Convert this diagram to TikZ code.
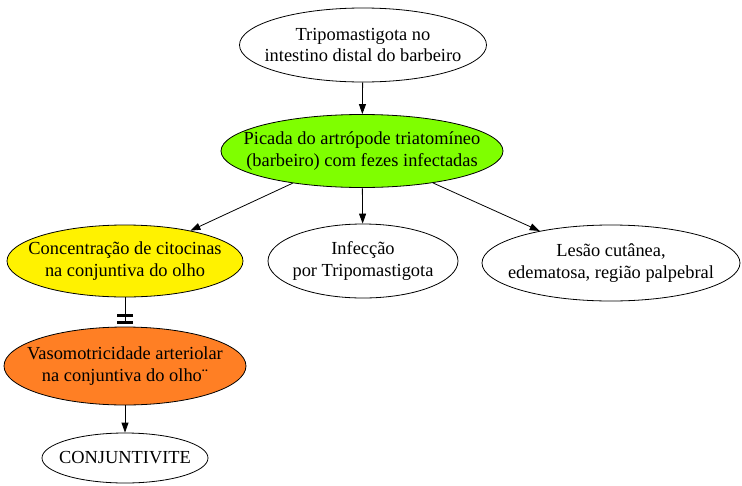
\documentclass[tikz,border=0pt]{standalone}
\usepackage{fontspec}
\setmainfont{Liberation Serif}
\usetikzlibrary{shapes.geometric,arrows.meta}
\definecolor{leafgreen}{RGB}{127,255,0}
\definecolor{warmorange}{RGB}{255,127,36}
\tikzset{
    every node/.style={ellipse, draw, line width=0.8pt, inner xsep=-50pt, inner ysep=0pt,
    	align=center, font=\fontsize{18.4}{21.5}\selectfont}
}
\tikzset{
    every edge/.append style={line width=0.8pt, -{Triangle[length=10pt,width=7pt]}}
}
\tikzset{
	teeline/.style={-{Bar[width=16pt,line width=3pt,sep=4pt]Bar[width=16pt,line width=3pt]}, shorten >=3pt}
}

\begin{document}
\begin{tikzpicture}[x=1pt, y=-1pt]
  \useasboundingbox (0,0) rectangle (742,485);
  \node (tripo) [minimum width=247pt, minimum height=74pt] at (363, 45) {Tripomastigota no\\intestino distal do barbeiro};
  \node (picada) [fill=leafgreen, minimum width=282pt, minimum height=73pt] at (362, 151) {Picada do artrópode triatomíneo\\(barbeiro) com fezes infectadas};
  \node (conc) [fill=yellow, minimum width=236pt, minimum height=72pt] at (125, 261) {Concentração de citocinas\\na conjuntiva do olho};
  \node (infec) [minimum width=190pt, minimum height=74pt] at (363, 261) {Infecção\\por Tripomastigota};
  \node (lesao) [minimum width=258pt, minimum height=76pt] at (611, 263) {Lesão cutânea,\\edematosa, região palpebral};
  \node (vaso) [fill=warmorange, minimum width=242pt, minimum height=78pt] at (125, 366) {Vasomotricidade arteriolar\\na conjuntiva do olho¨};
  \node (conj) [minimum width=166pt, minimum height=50pt] at (125, 458) {CONJUNTIVITE};
  
  \draw (tripo) edge (picada); \draw (picada) edge (conc);
  \draw (picada) edge (infec); \draw (picada) edge (lesao);
  \draw (conc) edge[teeline] (vaso); \draw (vaso) edge (conj);
\end{tikzpicture}
\end{document}
